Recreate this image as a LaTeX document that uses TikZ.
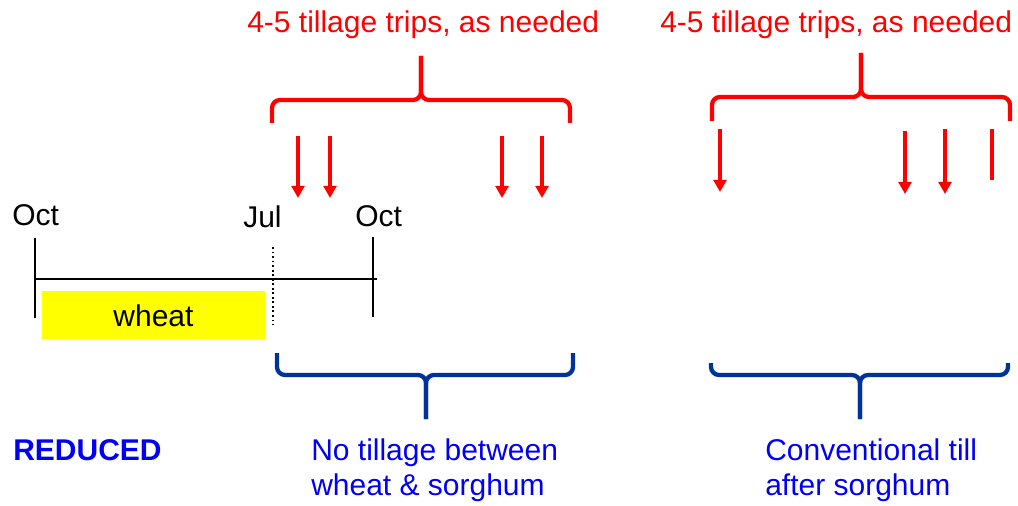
\documentclass[tikz,border=0pt]{standalone}
\usepackage{fontspec}
\setmainfont{Liberation Sans}
\usetikzlibrary{arrows.meta}
\definecolor{tred}{RGB}{255,0,0}
\definecolor{braceblue}{RGB}{0,51,153}
\definecolor{tblue}{RGB}{0,0,245}
\definecolor{wheatyellow}{RGB}{255,255,0}
\begin{document}
\begin{tikzpicture}[x=0.75pt,y=-0.75pt,
  font=\fontsize{22.5}{27}\selectfont,
  lbl/.style={inner sep=0pt, anchor=base west},
  redbrace/.style={draw=tred, line width=3.2pt, rounded corners=6pt},
  bluebrace/.style={draw=braceblue, line width=3.2pt, rounded corners=6pt},
  trip/.style={draw=tred, line width=3pt, -{Triangle[width=9.5pt,length=9pt]}},
  tickline/.style={draw=black, line width=2.2pt},
]
\useasboundingbox (0,0) rectangle (1018,506);

% titles
\node[lbl, text=tred] (t1) at (247,33) {4-5 tillage trips, as needed};
\node[lbl, text=tred] (t2) at (660,33) {4-5 tillage trips, as needed};

% red braces
\draw[redbrace] (272,123) -- (272,100) -- (421,100) -- (421,56);
\draw[redbrace] (570,123) -- (570,100) -- (421,100) -- (421,56);
\draw[redbrace] (712,121) -- (712,97) -- (861,97) -- (861,53);
\draw[redbrace] (1010,121) -- (1010,97) -- (861,97) -- (861,53);

% tillage arrows
\coordinate (a1s) at (298,136); \coordinate (a1e) at (298,198);
\coordinate (a2s) at (330,136); \coordinate (a2e) at (330,198);
\coordinate (a3s) at (502,136); \coordinate (a3e) at (502,198);
\coordinate (a4s) at (542,136); \coordinate (a4e) at (542,198);
\coordinate (b1s) at (720,129); \coordinate (b1e) at (720,192);
\coordinate (b2s) at (905,131); \coordinate (b2e) at (905,194);
\coordinate (b3s) at (945,129); \coordinate (b3e) at (945,194);
\coordinate (b4s) at (992,129); \coordinate (b4e) at (992,180);
\draw[trip] (a1s) -- (a1e);
\draw[trip] (a2s) -- (a2e);
\draw[trip] (a3s) -- (a3e);
\draw[trip] (a4s) -- (a4e);
\draw[trip] (b1s) -- (b1e);
\draw[trip] (b2s) -- (b2e);
\draw[trip] (b3s) -- (b3e);
\draw[draw=tred, line width=3pt] (b4s) -- (b4e);

% timeline
\node[lbl] (oct1) at (12,226) {Oct};
\node[lbl] (jul) at (243,228) {Jul};
\node[lbl] (oct2) at (355,227) {Oct};
\node[fill=wheatyellow, inner sep=0pt, minimum width=167.25pt, minimum height=36pt] (wheatbox) at (153.5,315) {};
\node[inner sep=0pt] (wheat) at (153.5,316) {wheat};
\draw[line width=1.6pt] (35,279) -- (377,279);
\draw[tickline] (35,238) -- (35,318);
\draw[tickline] (373,237) -- (373,317);
\draw[line width=1.4pt, dotted] (273,247) -- (273,325);

% blue braces
\draw[bluebrace] (277,353) -- (277,375) -- (426,375) -- (426,419);
\draw[bluebrace] (573,353) -- (573,375) -- (426,375) -- (426,419);
\draw[bluebrace] (711,363) -- (711,375) -- (860,375) -- (860,419);
\draw[bluebrace] (1008,363) -- (1008,375) -- (860,375) -- (860,419);

% bottom labels
\node[lbl, text=tblue, font=\fontsize{22.5}{27}\selectfont\bfseries] (reduced) at (13,460) {REDUCED};
\node[lbl, text=tblue] (nt1) at (311,460) {No tillage between};
\node[lbl, text=tblue] (nt2) at (311,495) {wheat \& sorghum};
\node[lbl, text=tblue] (ct1) at (765,460) {Conventional till};
\node[lbl, text=tblue] (ct2) at (765,495) {after sorghum};
\end{tikzpicture}
\end{document}
